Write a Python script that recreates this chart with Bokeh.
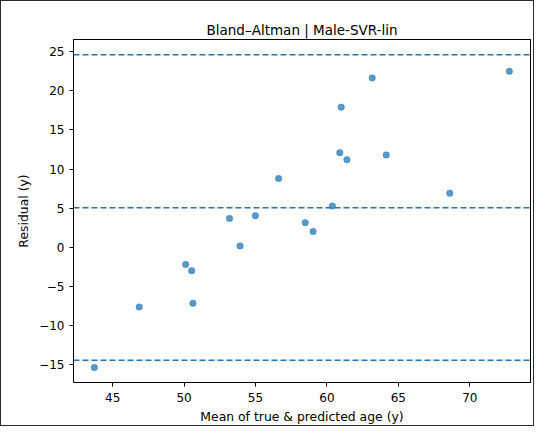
from bokeh.plotting import figure
from bokeh.models import Span, Range1d, FixedTicker, LinearAxis, CustomJSTickFormatter
from bokeh.embed import file_html
from bokeh.resources import INLINE

# mean of true & predicted age, and residual (years)
mean_age = [43.72, 46.86, 50.11, 50.53, 50.62, 53.18, 53.92, 54.99, 56.62, 58.48,
            59.03, 60.38, 60.90, 61.00, 61.40, 63.17, 64.15, 68.60, 72.77]
residual = [-15.37, -7.64, -2.20, -3.00, -7.17, 3.69, 0.17, 4.04, 8.79, 3.14,
            2.00, 5.26, 12.10, 17.92, 11.20, 21.66, 11.80, 6.92, 22.50]

# bias and limits of agreement
limits = [24.62, 5.05, -14.45]

x_ticks = [45, 50, 55, 60, 65, 70]
y_ticks = [-15, -10, -5, 0, 5, 10, 15, 20, 25]

FONT = "DejaVu Sans"
BLUE = "#1f77b4"

p = figure(width=534, height=426,
           x_range=Range1d(42.26, 74.25), y_range=Range1d(-17.3, 26.57),
           output_backend="svg", toolbar_location=None,
           title="Bland\u2013Altman | Male-SVR-lin",
           x_axis_label="Mean of true & predicted age (y)",
           y_axis_label="Residual (y)",
           min_border_left=72, min_border_right=5,
           min_border_top=38, min_border_bottom=45)
p.styles = {"border": "1.5px solid #2b2b2b", "box-sizing": "border-box"}

p.title.align = "center"
p.title.standoff = 3
p.title.text_font = FONT
p.title.text_font_size = "13.5px"
p.title.text_font_style = "normal"
p.title.text_color = "black"

p.xgrid.visible = False
p.ygrid.visible = False
p.outline_line_color = "black"

minus = CustomJSTickFormatter(code="return String(tick).replace('-', '\\u2212');")
for ax in (p.xaxis[0], p.yaxis[0]):
    ax.axis_line_color = "black"
    ax.major_tick_line_color = "black"
    ax.major_tick_out = 4
    ax.major_tick_in = 0
    ax.minor_tick_line_color = None
    ax.major_label_text_font = FONT
    ax.major_label_text_font_size = "12px"
    ax.major_label_text_color = "black"
    ax.axis_label_text_font = FONT
    ax.axis_label_text_font_size = "12.4px"
    ax.axis_label_text_font_style = "normal"
    ax.axis_label_text_color = "black"
    ax.formatter = minus
p.xaxis.ticker = FixedTicker(ticks=x_ticks)
p.yaxis.ticker = FixedTicker(ticks=y_ticks)
p.yaxis.axis_label_standoff = 5
p.xaxis.axis_label_standoff = 4
p.yaxis.major_label_standoff = 5
p.xaxis.major_label_standoff = 6

# closing lines of the frame on top and right
for side in ("right", "above"):
    a = LinearAxis(axis_line_color="black", major_tick_line_color=None,
                   minor_tick_line_color=None, major_label_text_font_size="0px",
                   major_label_standoff=0, major_tick_out=0, major_tick_in=0,
                   ticker=FixedTicker(ticks=[]))
    p.add_layout(a, side)

for lv in limits:
    p.add_layout(Span(location=lv, dimension="width", line_color=BLUE,
                      line_width=1.5, line_dash="6 3"))

p.scatter(mean_age, residual, size=6.5, fill_color=BLUE, fill_alpha=0.75,
          line_color=BLUE, line_alpha=0.75, line_width=0.5)

open("out.html", "w").write(file_html(p, INLINE))
